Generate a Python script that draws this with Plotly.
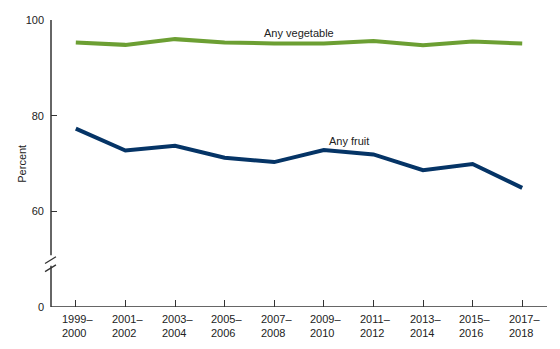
import plotly.graph_objects as go

periods = ["1999–2000", "2001–2002", "2003–2004", "2005–2006", "2007–2008",
           "2009–2010", "2011–2012", "2013–2014", "2015–2016", "2017–2018"]
tick_labels = [p.replace("–", "–<br>") for p in periods]
any_vegetable = [95.3, 94.8, 96.0, 95.3, 95.1, 95.1, 95.6, 94.7, 95.5, 95.1]
any_fruit = [77.3, 72.7, 73.7, 71.2, 70.3, 72.8, 71.9, 68.6, 69.9, 64.9]

y_tickvals = [40, 60, 80, 100]
y_ticktext = ["0", "60", "80", "100"]

green = "#6c9f33"
navy = "#053466"
axis_col = "#333333"
text_col = "#222222"
font = "Liberation Sans, Arial, sans-serif"

xs = list(range(len(periods)))

fig = go.Figure()
fig.add_trace(go.Scatter(x=xs, y=any_vegetable, mode="lines",
                         line=dict(color=green, width=4), hoverinfo="skip"))
fig.add_trace(go.Scatter(x=xs, y=any_fruit, mode="lines",
                         line=dict(color=navy, width=4), hoverinfo="skip"))

# Series labels
fig.add_annotation(x=4.5, y=any_vegetable[4] + 0.5, text="Any vegetable", showarrow=False,
                   yanchor="bottom", xanchor="center", font=dict(size=11, color=text_col))
fig.add_annotation(x=5.5, y=any_fruit[5] + 0.3, text="Any fruit", showarrow=False,
                   yanchor="bottom", xanchor="center", font=dict(size=11, color=text_col))

# Two-line period labels, left-aligned within each label block
for x, lab in zip(xs, tick_labels):
    fig.add_annotation(x=x, xref="x", y=0, yref="paper", text=lab, showarrow=False,
                       xanchor="center", yanchor="top", align="left", yshift=-4, xshift=2,
                       font=dict(size=11, color=text_col))

# Axis lines drawn as shapes so the y axis can show a break
line_style = dict(color=axis_col, width=1.5)
fig.add_shape(type="line", xref="x domain", yref="y", x0=0, x1=0, y0=100, y1=50.8, line=line_style)
fig.add_shape(type="line", xref="x domain", yref="y", x0=0, x1=0, y0=48.6, y1=40, line=line_style)
fig.add_shape(type="line", xref="x domain", yref="y", x0=0, x1=1, y0=40, y1=40, line=line_style)
# Break marks
for y0 in (49.8, 48.1):
    fig.add_shape(type="line", xref="x domain", yref="y",
                  x0=-0.012, x1=0.01, y0=y0 - 0.7, y1=y0 + 0.7, line=dict(color=axis_col, width=1.3))

fig.add_annotation(xref="paper", yref="paper", x=-0.06, y=0.5, text="Percent",
                   textangle=-90, showarrow=False, xanchor="center", yanchor="middle",
                   font=dict(size=11, color=text_col))

fig.update_xaxes(range=[-0.5, 9.5], tickvals=xs, showticklabels=False,
                 ticks="inside", ticklen=7, tickwidth=1.3, tickcolor=axis_col,
                 showline=False, showgrid=False, zeroline=False)
fig.update_yaxes(range=[40, 100], tickvals=y_tickvals, ticktext=y_ticktext,
                 ticks="inside", ticklen=6, tickwidth=1.3, tickcolor=axis_col,
                 ticklabelstandoff=6,
                 showline=False, showgrid=False, zeroline=False,
                 tickfont=dict(size=11, color=text_col))

fig.update_layout(width=560, height=349, margin=dict(l=51, r=13, t=20, b=42),
                  paper_bgcolor="white", plot_bgcolor="white", showlegend=False,
                  font=dict(family=font))

fig.write_html("out.html")
